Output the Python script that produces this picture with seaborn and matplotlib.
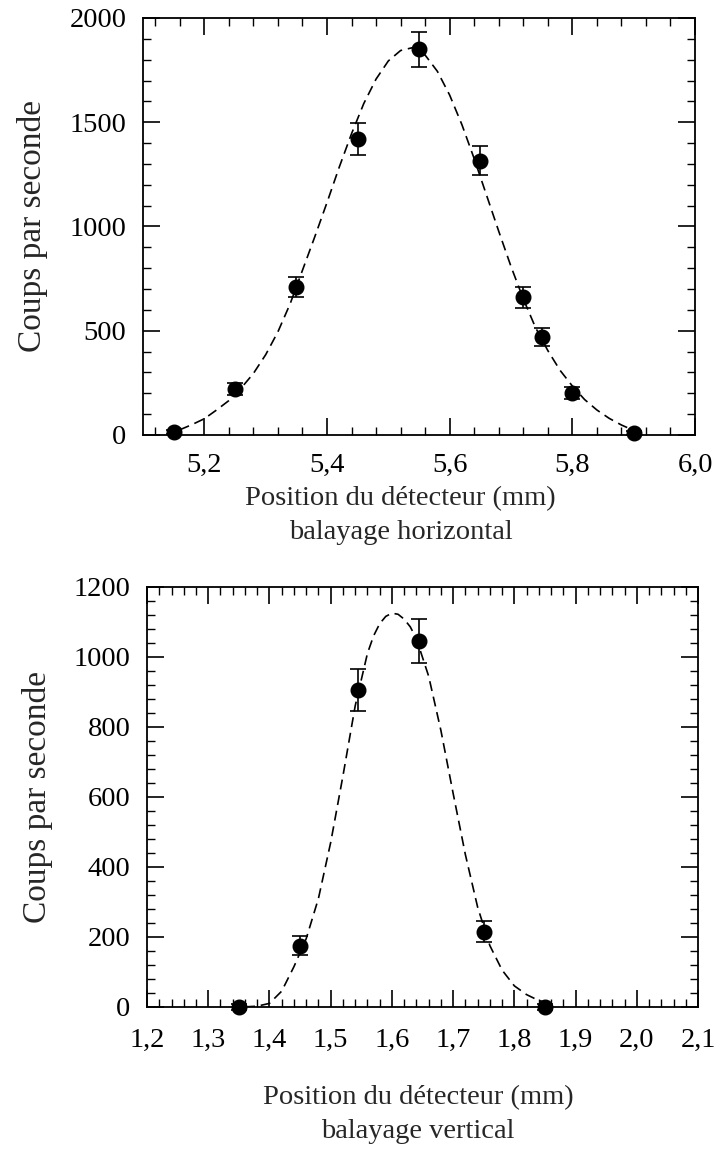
import numpy as np
import pandas as pd
import seaborn as sns
import matplotlib
matplotlib.use("Agg")
import matplotlib.pyplot as plt
from matplotlib.ticker import MultipleLocator

# Balayage horizontal : points mesurés
h_pos = [5.15, 5.25, 5.35, 5.45, 5.55, 5.65, 5.72, 5.75, 5.80, 5.90]
h_coups = [15, 220, 710, 1420, 1850, 1315, 660, 470, 200, 10]
h_err = [10, 30, 50, 75, 85, 70, 52, 45, 28, 10]

# Balayage horizontal : courbe ajustée
h_fit_x = [5.16, 5.18, 5.20, 5.22, 5.24, 5.26, 5.28, 5.30, 5.32, 5.34, 5.36, 5.38,
           5.40, 5.42, 5.44, 5.46, 5.48, 5.50, 5.52, 5.54, 5.56, 5.58, 5.60, 5.62,
           5.64, 5.66, 5.68, 5.70, 5.72, 5.74, 5.76, 5.78, 5.80, 5.82, 5.84, 5.86,
           5.88, 5.90]
h_fit_y = [25, 50, 78, 120, 165, 225, 295, 385, 495, 630, 790, 950,
           1115, 1285, 1445, 1590, 1707, 1794, 1844, 1858, 1822, 1744, 1630, 1488,
           1325, 1151, 977, 808, 653, 515, 405, 310, 235, 170, 120, 80,
           48, 22]

# Balayage vertical : points mesurés
v_pos = [1.35, 1.45, 1.545, 1.645, 1.75, 1.85]
v_coups = [0, 175, 905, 1045, 215, 0]
v_err = [8, 28, 60, 63, 29, 8]

# Balayage vertical : courbe ajustée
v_fit_x = [1.36, 1.38, 1.40, 1.42, 1.44, 1.46, 1.48, 1.50, 1.52, 1.54, 1.56, 1.57,
           1.58, 1.59, 1.60, 1.61, 1.62, 1.63, 1.64, 1.66, 1.68, 1.70, 1.72, 1.74,
           1.76, 1.78, 1.80, 1.82, 1.84, 1.86]
v_fit_y = [0, 2, 10, 45, 115, 195, 310, 470, 660, 860, 1010, 1060,
           1095, 1116, 1125, 1122, 1108, 1086, 1052, 945, 790, 610, 435, 285,
           175, 105, 60, 35, 18, 10]

h_ticks = [5.2, 5.4, 5.6, 5.8, 6.0]
h_ticklabels = ["5,2", "5,4", "5,6", "5,8", "6,0"]
v_ticks = [1.2, 1.3, 1.4, 1.5, 1.6, 1.7, 1.8, 1.9, 2.0, 2.1]
v_ticklabels = ["1,2", "1,3", "1,4", "1,5", "1,6", "1,7", "1,8", "1,9", "2,0", "2,1"]

sns.set_theme(style="ticks")
plt.rcParams['font.family'] = ['Liberation Serif', 'DejaVu Serif']

fig = plt.figure(figsize=(7.2, 11.6), dpi=100)
ax1 = fig.add_axes([0.1986, 0.625, 0.7667, 0.3595])
ax2 = fig.add_axes([0.2042, 0.132, 0.7653, 0.362])


def trace(ax, fx, fy, px, py, pe):
    fit = pd.DataFrame({"x": fx, "y": fy})
    sns.lineplot(data=fit, x="x", y="y", ax=ax, color="black", lw=1.2,
                 linestyle=(0, (6, 3.5)), sort=False)
    ax.errorbar(px, py, yerr=pe, fmt="o", color="black", ms=10.5,
                capsize=6, elinewidth=1.2, capthick=1.2, clip_on=False, zorder=5)


trace(ax1, h_fit_x, h_fit_y, h_pos, h_coups, h_err)
trace(ax2, v_fit_x, v_fit_y, v_pos, v_coups, v_err)

ax1.set_xlim(5.1, 6.0)
ax1.set_ylim(0, 2000)
ax1.set_xticks(h_ticks)
ax1.set_xticklabels(h_ticklabels)
ax1.set_yticks([0, 500, 1000, 1500, 2000])
ax1.xaxis.set_minor_locator(MultipleLocator(0.04))
ax1.yaxis.set_minor_locator(MultipleLocator(100))

ax2.set_xlim(1.2, 2.1)
ax2.set_ylim(0, 1200)
ax2.set_xticks(v_ticks)
ax2.set_xticklabels(v_ticklabels)
ax2.set_yticks([0, 200, 400, 600, 800, 1000, 1200])
ax2.xaxis.set_minor_locator(MultipleLocator(0.02))
ax2.yaxis.set_minor_locator(MultipleLocator(40))

for ax in (ax1, ax2):
    ax.tick_params(which="both", direction="in", top=True, right=True,
                   color="black", labelsize=20.5, labelcolor="black")
    ax.tick_params(which="major", length=12, width=1.2)
    ax.tick_params(which="minor", length=6, width=1.0)
    ax.tick_params(axis="y", which="major", pad=12)
    for sp in ax.spines.values():
        sp.set_linewidth(1.3)
        sp.set_color("black")
    ax.set_ylabel("Coups par seconde", fontsize=24, labelpad=15)

ax1.tick_params(axis="x", which="major", pad=13)
ax2.tick_params(axis="x", which="major", pad=15)

ax1.set_xlabel("Position du détecteur (mm)\nbalayage horizontal", fontsize=20.5,
               linespacing=1.45, labelpad=6)
ax2.set_xlabel("Position du détecteur (mm)\nbalayage vertical", fontsize=20.5,
               linespacing=1.5, labelpad=23)
ax1.xaxis.label.set_x(0.467)
ax2.xaxis.label.set_x(0.492)

fig.savefig("out.png", dpi=100, facecolor="white")
